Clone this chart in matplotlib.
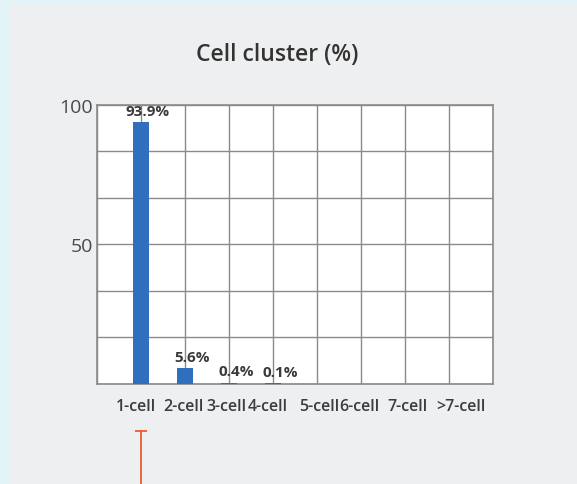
import numpy as np
import matplotlib
matplotlib.use('Agg')
import matplotlib.pyplot as plt
import matplotlib.transforms as mtrans

# data
categories = ['1-cell', '2-cell', '3-cell', '4-cell', '5-cell', '6-cell', '7-cell', '>7-cell']
values = [93.9, 5.6, 0.4, 0.1, 0, 0, 0, 0]
value_labels = ['93.9%', '5.6%', '0.4%', '0.1%', '', '', '', '']
y_ticks_labelled = [50, 100]

# the category labels are not quite centred in the original (pixels)
label_nudge = [-5, -2, -2.5, -5.5, 2.5, -2, 3, 12]

plt.rcParams['font.family'] = ['Open Sans', 'DejaVu Sans']

fig = plt.figure(figsize=(5.77, 4.85), dpi=100)
fig.patch.set_facecolor('#eeeff0')
# light cyan border on the left and the top
fig.patches.append(plt.Rectangle((0, 0), 8/577, 1, transform=fig.transFigure,
                                 color='#e3f4f8', zorder=0))
fig.patches.append(plt.Rectangle((0, 1-4/485), 1, 4/485, transform=fig.transFigure,
                                 color='#e3f4f8', zorder=0))

ax = fig.add_axes([97/577, 100.3/485, 396/577, 278.7/485])
ax.set_facecolor('white')

xpos = np.arange(1, len(categories)+1)
ax.bar(xpos, values, width=0.36, color='#2f6fbe', zorder=3)

for x, v, lab in zip(xpos, values, value_labels):
    if lab:
        ax.annotate(lab, (x, v), xytext=(5, 3), textcoords='offset points',
                    ha='center', va='bottom', fontsize=11, fontweight='bold',
                    color='#3a3a3a', zorder=4)

ax.set_xlim(0, len(categories)+1)
ax.set_ylim(0, 100)
ax.set_xticks(np.arange(0, len(categories)+2))
ax.set_xticklabels([])

# category labels drawn by hand so each can be nudged
trans = mtrans.blended_transform_factory(ax.transData, ax.transAxes)
for x, cat, dx in zip(xpos, categories, label_nudge):
    ax.text(x, 0, cat, ha='center', va='center', fontsize=11.5, fontweight='semibold',
            color='#3c3c3c', clip_on=False,
            transform=trans + mtrans.ScaledTranslation(dx/100, -22/100, fig.dpi_scale_trans))

ygrid = np.linspace(0, 100, 7)
ax.set_yticks(ygrid)
ax.set_yticklabels([('%d' % t if round(t) in y_ticks_labelled else '') for t in ygrid],
                   fontsize=14, color='#4a4a4a')
ax.tick_params(length=0, pad=3)
ax.grid(True, color='#8a8a8a', linewidth=1, zorder=1)
ax.set_axisbelow(True)
for s in ax.spines.values():
    s.set_color('#8a8a8a')
    s.set_linewidth(1.2)

fig.text(277/577, 1-55/485, 'Cell cluster (%)', ha='center', va='center',
         fontsize=16.5, fontweight='semibold', color='#333333')

# red marker line below the first category
ax.plot([1, 1], [-0.17, -0.37], color='#ef5a2e', lw=1.3, transform=trans, clip_on=False)
ax.plot([1], [-0.17], marker='_', markersize=9, mew=1.3, color='#ef5a2e',
        transform=trans, clip_on=False)

fig.savefig('out.png', dpi=100, facecolor=fig.get_facecolor())
